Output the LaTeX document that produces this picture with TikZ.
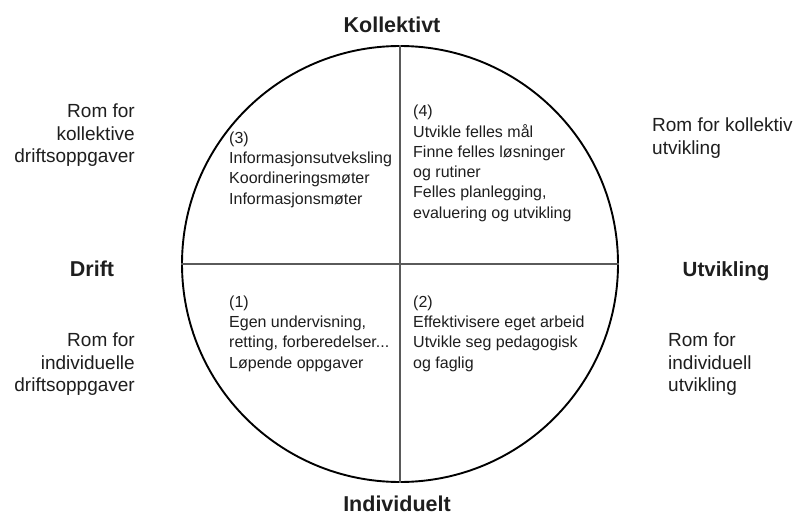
\documentclass[tikz,border=0pt]{standalone}
\usepackage{fontspec}
\setmainfont{Liberation Sans}
\definecolor{ink}{HTML}{1E1E1E}
\definecolor{axis}{HTML}{5A5A5A}
\tikzset{
  body/.style={inner sep=0pt, align=left, text=ink, font=\fontsize{16}{20.3}\selectfont},
  side/.style={inner sep=0pt, text=ink, font=\fontsize{19}{22.5}\selectfont},
  title/.style={inner sep=0pt, anchor=base, text=ink, font=\fontsize{21.5}{24}\selectfont\bfseries},
}
\begin{document}
\begin{tikzpicture}[x=1pt,y=-1pt]
\useasboundingbox (0,0) rectangle (794,516);
\fill[white] (0,0) rectangle (794,516);
% circle and axes
\coordinate (c) at (400,264);
\node[circle, draw=black, line width=1.9pt, minimum size=436pt, inner sep=0pt] (circ) at (c) {};
\draw[axis, line width=1.1pt] (circ.north) -- (circ.south);
\draw[axis, line width=1.1pt] (circ.west) -- (circ.east);
% titles
\node[title] (koll) at (392,33) {Kollektivt};
\node[title] (indiv) at (397,511) {Individuelt};
\node[title] (drift) at (92,276) {Drift};
\node[title, font=\fontsize{20.5}{24}\selectfont\bfseries] (utv) at (726,276) {Utvikling};
% quadrant texts
\node[body, anchor=north west] (q3) at (229,131.5) {(3)\\Informasjonsutveksling\\Koordineringsmøter\\Informasjonsmøter};
\node[body, anchor=north west] (q4) at (413,105) {(4)\\Utvikle felles mål\\Finne felles løsninger\\og rutiner\\Felles planlegging,\\evaluering og utvikling};
\node[body, anchor=north west] (q1) at (229,295.5) {(1)\\Egen undervisning,\\retting, forberedelser...\\Løpende oppgaver};
\node[body, anchor=north west] (q2) at (413,295.5) {(2)\\Effektivisere eget arbeid\\Utvikle seg pedagogisk\\og faglig};
% side texts
\node[side, anchor=north east, align=right] (s1) at (135,104) {Rom for\\kollektive\\driftsoppgaver};
\node[side, anchor=north east, align=right] (s2) at (135,333) {Rom for\\individuelle\\driftsoppgaver};
\node[side, anchor=north west, align=left] (s3) at (652,118) {Rom for kollektiv\\utvikling};
\node[side, anchor=north west, align=left] (s4) at (668,333) {Rom for\\individuell\\utvikling};
\end{tikzpicture}
\end{document}
